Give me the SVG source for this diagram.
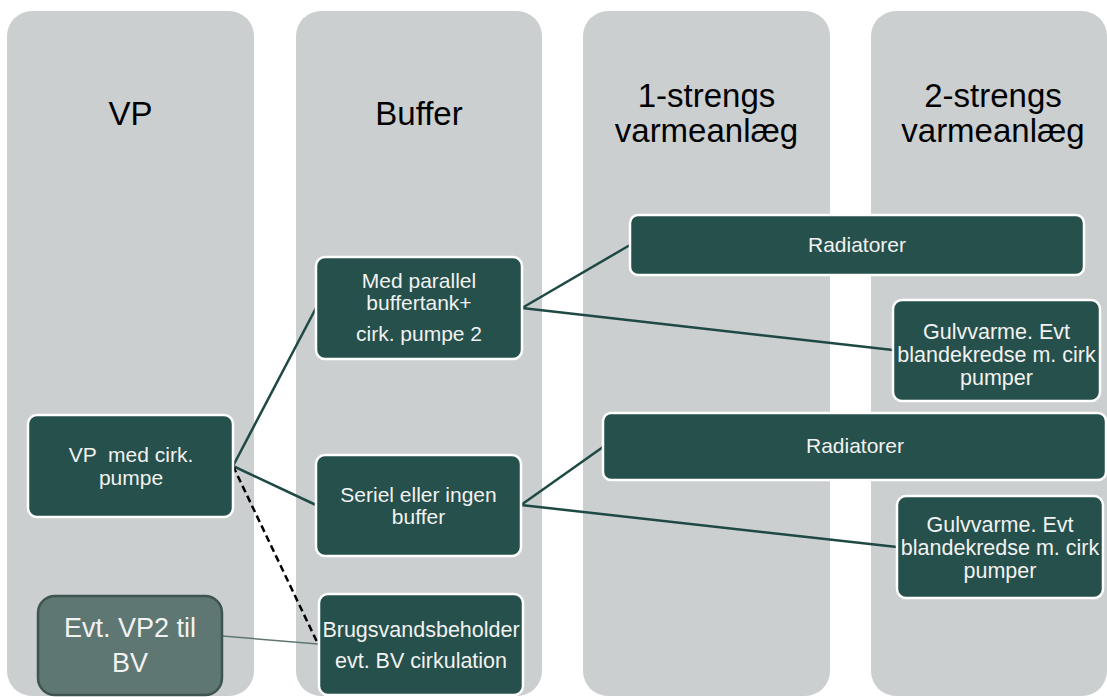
<svg xmlns="http://www.w3.org/2000/svg" width="1107" height="697" viewBox="0 0 1107 697">
  <style>
    .lane { fill: #cbcfd0; }
    .head { font-family: "Liberation Sans", Arial, sans-serif; font-size: 33px; fill: #000000; text-anchor: middle; }
    .box { fill: #26504b; stroke: #ffffff; stroke-width: 2.5; }
    .alt { fill: #5f7773; stroke: #3e5450; stroke-width: 2.5; }
    .lbl { font-family: "Liberation Sans", Arial, sans-serif; font-size: 21px; fill: #f2f2f2; text-anchor: middle; }
    .lbl-wide { font-size: 21.5px; }
    .lbl-big { font-family: "Liberation Sans", Arial, sans-serif; font-size: 27px; fill: #f2f2f2; text-anchor: middle; }
    .link { stroke: #1f4944; stroke-width: 2.5; fill: none; }
    .link-dash { stroke: #000000; stroke-width: 2.5; stroke-dasharray: 7 4; fill: none; }
    .link-thin { stroke: #5f7773; stroke-width: 1.5; fill: none; }
  </style>

  <rect width="1107" height="697" fill="#ffffff"/>

  <!-- lanes -->
  <g id="lane-vp">
    <rect class="lane" x="7" y="11" width="247" height="685" rx="25" ry="25"/>
    <text class="head" x="130.5" y="125">VP</text>
  </g>
  <g id="lane-buffer">
    <rect class="lane" x="296" y="11" width="246" height="685" rx="25" ry="25"/>
    <text class="head" x="419" y="125">Buffer</text>
  </g>
  <g id="lane-1strengs">
    <rect class="lane" x="583" y="11" width="247" height="685" rx="25" ry="25"/>
    <text class="head" x="706.5" y="107">1-strengs</text>
    <text class="head" x="706.5" y="142">varmeanlæg</text>
  </g>
  <g id="lane-2strengs">
    <rect class="lane" x="871" y="11" width="236" height="685" rx="25" ry="25"/>
    <text class="head" x="993" y="107">2-strengs</text>
    <text class="head" x="993" y="142">varmeanlæg</text>
  </g>

  <!-- connectors -->
  <g id="connectors">
    <line class="link" x1="233" y1="466" x2="316" y2="308"/>
    <line class="link" x1="233" y1="466" x2="316" y2="505"/>
    <line class="link-dash" x1="233" y1="466" x2="318" y2="644"/>
    <line class="link-thin" x1="222" y1="636" x2="318" y2="644"/>
    <line class="link" x1="522" y1="308" x2="630" y2="245"/>
    <line class="link" x1="522" y1="308" x2="893" y2="350"/>
    <line class="link" x1="521" y1="505" x2="603" y2="447"/>
    <line class="link" x1="521" y1="505" x2="897" y2="547"/>
  </g>

  <!-- nodes -->
  <g id="node-vp">
    <rect class="box" x="28" y="415" width="205" height="102" rx="9" ry="9"/>
    <text class="lbl" x="131" y="462" xml:space="preserve" style="white-space:pre">VP  med cirk.</text>
    <text class="lbl" x="131" y="485">pumpe</text>
  </g>
  <g id="node-vp2">
    <rect class="alt" x="38" y="596" width="184" height="99" rx="17" ry="17"/>
    <text class="lbl-big" x="130" y="637">Evt. VP2 til</text>
    <text class="lbl-big" x="130" y="672">BV</text>
  </g>
  <g id="node-parallel">
    <rect class="box" x="316" y="257" width="206" height="102" rx="9" ry="9"/>
    <text class="lbl" x="419" y="288">Med parallel</text>
    <text class="lbl" x="419" y="310">buffertank+</text>
    <text class="lbl" x="419" y="341">cirk. pumpe 2</text>
  </g>
  <g id="node-seriel">
    <rect class="box" x="316" y="455" width="205" height="101" rx="9" ry="9"/>
    <text class="lbl" x="418.5" y="502">Seriel eller ingen</text>
    <text class="lbl" x="418.5" y="524">buffer</text>
  </g>
  <g id="node-brugsvand">
    <rect class="box" x="319" y="594" width="204" height="101" rx="9" ry="9"/>
    <text class="lbl" x="421" y="637" style="font-size:21.5px">Brugsvandsbeholder</text>
    <text class="lbl" x="421" y="668" style="font-size:21.5px">evt. BV cirkulation</text>
  </g>
  <g id="node-radiatorer-1">
    <rect class="box" x="630" y="215" width="454" height="60" rx="8" ry="8"/>
    <text class="lbl" x="857" y="252">Radiatorer</text>
  </g>
  <g id="node-gulvvarme-1">
    <rect class="box" x="893" y="300" width="207" height="101" rx="9" ry="9"/>
    <text class="lbl lbl-wide" x="996.5" y="339">Gulvvarme. Evt</text>
    <text class="lbl lbl-wide" x="996.5" y="362">blandekredse m. cirk</text>
    <text class="lbl lbl-wide" x="996.5" y="385">pumper</text>
  </g>
  <g id="node-radiatorer-2">
    <rect class="box" x="603" y="413" width="503" height="67" rx="8" ry="8"/>
    <text class="lbl" x="855" y="453">Radiatorer</text>
  </g>
  <g id="node-gulvvarme-2">
    <rect class="box" x="897" y="496" width="206" height="102" rx="9" ry="9"/>
    <text class="lbl lbl-wide" x="1000" y="532">Gulvvarme. Evt</text>
    <text class="lbl lbl-wide" x="1000" y="555">blandekredse m. cirk</text>
    <text class="lbl lbl-wide" x="1000" y="578">pumper</text>
  </g>
</svg>
